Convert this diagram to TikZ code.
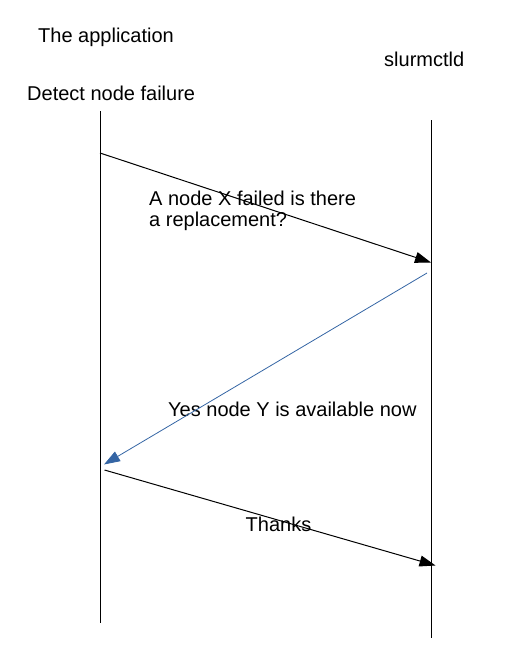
\documentclass[tikz,border=0pt]{standalone}
\usepackage{fontspec}
\setmainfont{Liberation Sans}
\usetikzlibrary{arrows.meta}
\definecolor{replyblue}{HTML}{3465A4}

\begin{document}
\begin{tikzpicture}[x=1pt,y=-1pt]
        \useasboundingbox (0,0) rectangle (526,653);

        \begin{scope}[every node/.style={anchor=base west, inner sep=0pt, font=\fontsize{20}{21.5}\selectfont}]
          \node (app)    at (38,42)  {The application};
          \node (ctld)   at (384,66) {slurmctld};
          \node (detect) at (27,100) {Detect node failure};
          \node[anchor=north west, align=left] (ask) at (149,190.4) {A node X failed is there\\a replacement?};
          \node (yes)    at (168,416) {Yes node Y is available now};
          \node (thanks) at (245.5,531) {Thanks};
        \end{scope}

        % lifelines
        \coordinate (appTop)  at (100,111);
        \coordinate (appBot)  at (100,623);
        \coordinate (ctldTop) at (431,120);
        \coordinate (ctldBot) at (431,638);

        % message ends
        \coordinate (m1s) at (100,153);
        \coordinate (m1e) at (431,262.5);
        \coordinate (m2s) at (427,273);
        \coordinate (m2e) at (104,464.5);
        \coordinate (m3s) at (104.5,470);
        \coordinate (m3e) at (435.5,565.5);

        \begin{scope}[every edge/.style={draw, line width=1pt}]
          \path (appTop)  edge (appBot);
          \path (ctldTop) edge (ctldBot);
          \path (m1s) edge[-{Triangle[length=16pt,width=11pt]}] (m1e);
          \path (m2s) edge[replyblue, line width=0.8pt, -{Triangle[length=16pt,width=11pt]}] (m2e);
          \path (m3s) edge[-{Triangle[length=16pt,width=11pt]}] (m3e);
        \end{scope}

      \end{tikzpicture}
\end{document}
